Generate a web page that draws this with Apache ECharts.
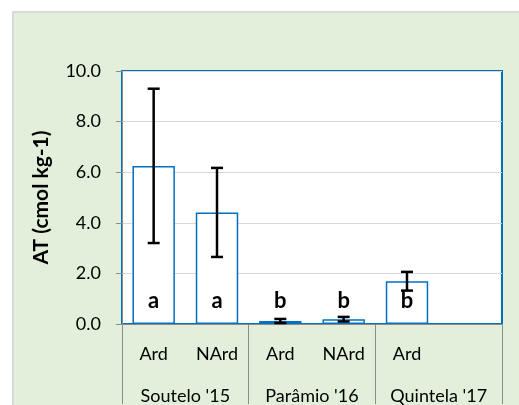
<!DOCTYPE html>
<html>
<head>
<meta charset="utf-8">
<script src="https://cdn.jsdelivr.net/npm/echarts@6/dist/echarts.min.js"></script>
<style>
  html, body { margin: 0; padding: 0; background: #ffffff; }
  #chart { width: 519px; height: 405px; }
</style>
</head>
<body>
<div id="chart"></div>
<script>
// Treatments per site (last slot left empty for the Quintela group)
const treatments = ['Ard', 'NArd', 'Ard', 'NArd', 'Ard', ''];
const sites = ["Soutelo '15", "Parâmio '16", "Quintela '17"];
// Mean AT (cmol kg-1) and error (±) per treatment
const meanAT = [6.25, 4.41, 0.12, 0.19, 1.69, '-'];
const errAT = [3.05, 1.76, 0.08, 0.09, 0.37, null];
// Significance letters
const letters = ['a', 'a', 'b', 'b', 'b', ''];
const letterLevel = 0.9;

const FONT = 'Lato, "Open Sans", sans-serif';

const errorData = [];
const letterData = [];
meanAT.forEach(function (m, i) {
  if (typeof m === 'number') {
    errorData.push([i, m - errAT[i], m + errAT[i]]);
  }
  if (letters[i]) letterData.push([i, letterLevel, letters[i]]);
});

const chart = echarts.init(document.getElementById('chart'), null, { renderer: 'canvas' });

chart.setOption({
  backgroundColor: '#ffffff',
  animation: false,
  graphic: [{
    type: 'rect',
    z: -10,
    shape: { x: 13, y: 12, width: 520, height: 400 },
    style: { fill: '#E2EFDA', stroke: '#D9D9D9', lineWidth: 2 }
  }],
  grid: {
    left: 122, top: 71, width: 380, height: 257,
    show: true,
    backgroundColor: '#ffffff',
    borderColor: '#0070C0',
    borderWidth: 2
  },
  xAxis: [{
    type: 'category',
    data: treatments,
    position: 'bottom',
    axisLine: { show: false },
    axisTick: { show: false },
    axisLabel: { color: '#000', fontFamily: FONT, fontSize: 18, margin: 21, interval: 0 },
    splitLine: { show: false }
  }, {
    type: 'category',
    data: sites,
    position: 'bottom',
    axisLine: { show: true, lineStyle: { color: '#8C8C8C', width: 1 } },
    axisTick: { show: true, length: 80, lineStyle: { color: '#8C8C8C', width: 1 } },
    axisLabel: { color: '#000', fontFamily: FONT, fontSize: 18, margin: 63, interval: 0 },
    splitLine: { show: false }
  }],
  yAxis: {
    type: 'value',
    min: 0, max: 10, interval: 2,
    name: 'AT (cmol kg-1)',
    nameLocation: 'middle',
    nameRotate: 90,
    nameGap: 70,
    nameTextStyle: { color: '#000', fontFamily: FONT, fontSize: 21, fontWeight: 'bold' },
    axisLine: { show: true, lineStyle: { color: '#8C8C8C', width: 1 } },
    axisTick: { show: true, length: 6, lineStyle: { color: '#8C8C8C' } },
    axisLabel: {
      color: '#000', fontFamily: FONT, fontSize: 18, margin: 21,
      formatter: function (v) { return v.toFixed(1); }
    },
    splitLine: { show: true, lineStyle: { color: '#D9D9D9', width: 1 } }
  },
  series: [{
    type: 'bar',
    xAxisIndex: 0,
    data: meanAT,
    barWidth: '67%',
    itemStyle: { color: '#ffffff', borderColor: '#0070C0', borderWidth: 1.5 },
    z: 2
  }, {
    type: 'custom',
    xAxisIndex: 0,
    data: errorData,
    z: 5,
    renderItem: function (params, api) {
      const x = api.coord([api.value(0), 0])[0];
      const lo = api.coord([api.value(0), api.value(1)])[1];
      const hi = api.coord([api.value(0), api.value(2)])[1];
      const cap = 6;
      const style = { stroke: '#000', lineWidth: 2.5 };
      return {
        type: 'group',
        children: [
          { type: 'line', shape: { x1: x, y1: hi, x2: x, y2: lo }, style: style },
          { type: 'line', shape: { x1: x - cap, y1: hi, x2: x + cap, y2: hi }, style: style },
          { type: 'line', shape: { x1: x - cap, y1: lo, x2: x + cap, y2: lo }, style: style }
        ]
      };
    }
  }, {
    type: 'custom',
    xAxisIndex: 0,
    data: letterData,
    z: 6,
    renderItem: function (params, api) {
      const p = api.coord([api.value(0), api.value(1)]);
      return {
        type: 'text',
        x: p[0], y: p[1],
        style: {
          text: letterData[params.dataIndex][2],
          align: 'center', verticalAlign: 'middle',
          font: 'bold 22px ' + FONT,
          fill: '#000'
        }
      };
    }
  }]
});
</script>
</body>
</html>
